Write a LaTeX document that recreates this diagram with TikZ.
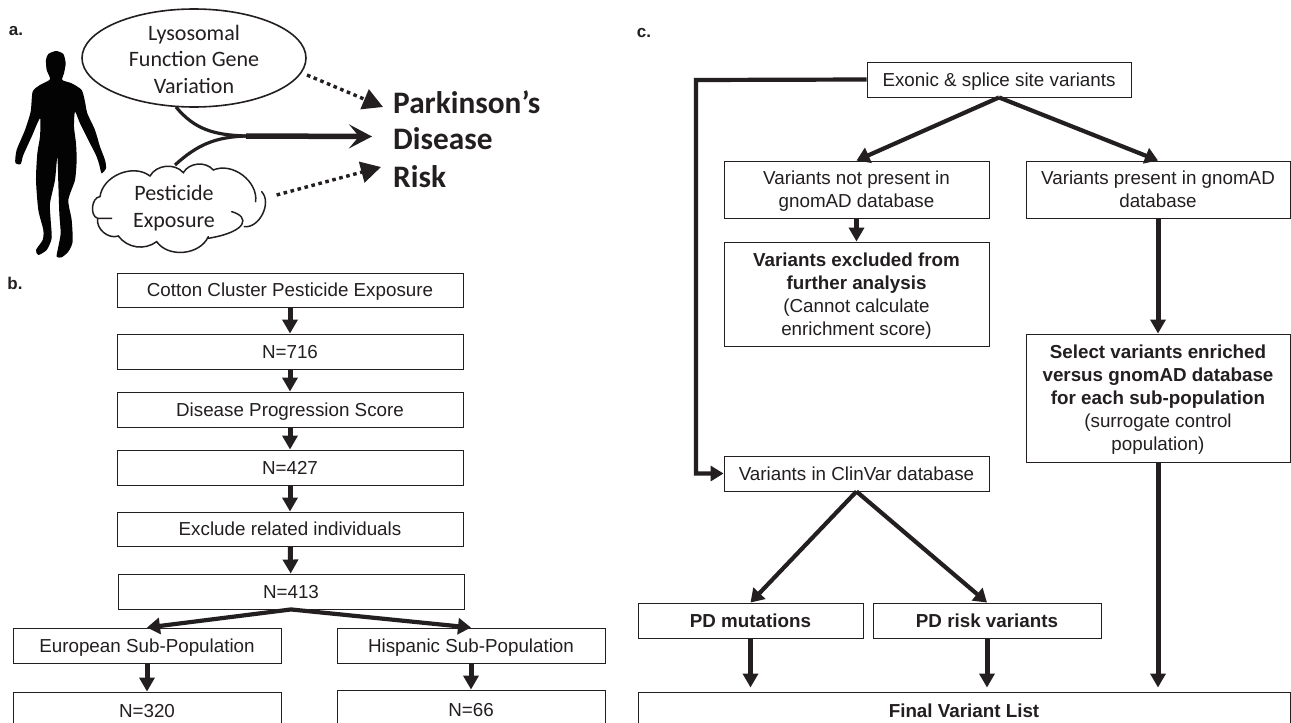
\documentclass[tikz,border=0pt]{standalone}
\usepackage{fontspec}
\setmainfont{Liberation Sans}
\newfontfamily\calib{Carlito}
\usetikzlibrary{arrows.meta,positioning,shapes.geometric}
\definecolor{ink}{HTML}{231F20}
\tikzset{
 x=1pt,y=-1pt,
 bx/.style={draw=ink,line width=0.9pt,fill=white,inner sep=0pt,align=center,text depth=0pt,font=\fontsize{18.8}{23}\selectfont,text=ink},
 thick arrow/.style={draw=ink,line width=5pt,-{Triangle[length=14pt,width=15pt]}},
 diag arrow/.style={draw=ink,line width=4.2pt,-{Triangle[length=13pt,width=16pt]}},
 dot arrow/.style={draw=ink,line width=3.4pt,dash pattern=on 3.6pt off 3.6pt,-{Triangle[length=20pt,width=21pt]}},
 lab/.style={font=\bfseries\fontsize{17}{19}\selectfont,text=ink,inner sep=0pt},
 pd/.style={font=\calib\bfseries\fontsize{31.3}{36}\selectfont,text=ink,inner sep=0pt,anchor=west},
 cal/.style={font=\calib\fontsize{22}{26.5}\selectfont,text=ink,align=center,inner sep=0pt},
}
\newcommand{\boxat}[7][]{\node[bx,minimum width=#4pt-#2pt,minimum height=#5pt-#3pt,#1] (#6) at ({(#2+#4)/2},{(#3+#5)/2}) {#7};}
\begin{document}
\begin{tikzpicture}
\useasboundingbox (0,0) rectangle (1291,723);
\fill[white] (0,0) rectangle (1291,723);
\node[lab] (la) at (16,31) {a.};
\node[lab] (lb) at (15,283) {b.};
\node[lab] (lc) at (644,33) {c.};
% person
\begin{scope}[shift={(0,40)},x=0.3333pt,y=-0.3333pt]
\fill[black!92!ink] plot[smooth cycle,tension=0.4] coordinates {
(168,33)(190,42)(197,70)(192,100)(187,120)(215,130)(245,150)(255,185)(262,220)(285,270)(300,320)(315,360)(318,385)(305,400)(298,375)(290,350)(265,300)(240,250)(225,215)(222,260)(228,310)(230,360)(225,420)(205,480)(215,540)(218,605)(205,635)(185,652)(170,650)(175,620)(182,580)(178,520)(175,430)(172,350)(165,420)(150,490)(152,540)(155,595)(140,630)(115,645)(108,630)(128,600)(130,570)(115,510)(108,420)(112,340)(120,290)(120,235)(95,290)(70,345)(62,372)(46,368)(50,330)(75,270)(92,215)(98,155)(120,135)(150,118)(140,90)(138,60)(145,42)};
\end{scope}
\node[ellipse,draw=ink,line width=1.6pt,minimum width=224pt,minimum height=98pt,inner sep=0pt] (lyso) at (194,58) {};
\node[cal] (lysot) at (194,59) {Lysosomal\\Function Gene\\Variation};
% cloud
\begin{scope}[shift={(85,160)},x=0.3333pt,y=-0.3333pt]
\draw[ink,line width=1.5pt,line cap=round]
(45,110) to[bend left=60] (195,48) to[bend left=55] (295,38) to[bend left=55] (385,30) to[bend left=60] (512,125)
(530,95) to[bend left=70] (478,200)
(440,155) .. controls (495,170) and (490,215) .. (370,235)
(370,230) to[bend left=60] (215,245) to[bend left=45] (100,228) to[bend left=60] (38,175) -- (80,175)
(38,175) to[bend left=80] (45,110);
\coordinate (cloudtop) at (270,15);
\coordinate (cloudright) at (575,105);
\end{scope}
\node[cal,font=\calib\fontsize{22}{27}\selectfont] (pest) at (174,208) {Pesticide\\Exposure};
\node[pd] (p1) at (393,102) {Parkinson’s};
\node[pd] (p2) at (393,139) {Disease};
\node[pd] (p3) at (393,177) {Risk};
\coordinate (merge) at (246,136);
\coordinate (tipm) at (372,136.5);
\coordinate (tip1) at (383,107);
\coordinate (tip3) at (381,167);
\coordinate (s1) at (176,107);
\coordinate (d1) at (307,75);
\draw[ink,line width=3.2pt] (s1) .. controls (195,130) and (215,135) .. (merge);
\draw[ink,line width=3.2pt] (cloudtop) .. controls (197,145) and (215,137) .. (merge);
\draw[ink,line width=5.5pt,-{Stealth[length=23pt,width=24pt,inset=10pt]}] (merge) -- (tipm);
\draw[dot arrow] (d1) -- (tip1);
\draw[dot arrow] (cloudright) -- (tip3);
% panel b
\boxat{117}{273}{463}{307}{b1}{Cotton Cluster Pesticide Exposure}
\boxat{117}{334}{463}{369}{b2}{N=716}
\boxat{117}{392}{463}{427}{b3}{Disease Progression Score}
\boxat{117}{450}{463}{485}{b4}{N=427}
\boxat{117}{512}{463}{546}{b5}{Exclude related individuals}
\boxat{118}{574}{464}{609}{b6}{N=413}
\boxat{13}{628}{281}{663}{b7}{European Sub-Population}
\boxat{337}{628}{605}{663}{b8}{Hispanic Sub-Population}
\boxat{13}{692}{281}{730}{b9}{N=320}
\boxat{337}{690}{605}{730}{b10}{N=66}
\foreach \a/\b in {b1/b2,b2/b3,b3/b4,b4/b5,b5/b6,b7/b9,b8/b10}{\draw[thick arrow] (\a) -- (\b);}
\draw[diag arrow] (b6.south) -- (b7.north);
\draw[diag arrow] (b6.south) -- (b8.north);
% panel c
\boxat{867}{62}{1131}{97}{ex}{Exonic \& splice site variants}
\boxat{724}{161}{989}{218}{np}{Variants not present in\\gnomAD database}
\boxat{1026}{161}{1290}{218}{pr}{Variants present in gnomAD\\database}
\boxat{724}{242}{989}{346}{exc}{\textbf{Variants excluded from}\\\textbf{further analysis}\\(Cannot calculate\\enrichment score)}
\boxat{1026}{334}{1290}{462}{sel}{\textbf{Select variants enriched}\\\textbf{versus gnomAD database}\\\textbf{for each sub-population}\\(surrogate control\\population)}
\boxat{724}{456}{989}{491}{clin}{Variants in ClinVar database}
\boxat{638}{603}{863}{638}{mut}{\textbf{PD mutations}}
\boxat{873}{603}{1101}{638}{risk}{\textbf{PD risk variants}}
\boxat{638}{692}{1290}{730}{fin}{\textbf{Final Variant List}}
\coordinate (corner) at (696,80);
\draw[draw=ink,line width=4.2pt,miter limit=10,-{Triangle[length=13pt,width=15pt]}] (ex.west) -- (corner) |- (clin.west);
\draw[diag arrow] (ex.south) -- (np.north);
\draw[diag arrow] (ex.south) -- (pr.north);
\draw[thick arrow] (np) -- (exc);
\draw[thick arrow] (pr) -- (sel);
\draw[diag arrow] (clin.south) -- (mut.north);
\draw[diag arrow] (clin.south) -- (risk.north);
\draw[thick arrow,shorten >=4pt] (mut.south) -- (mut.south |- fin.north);
\draw[thick arrow,shorten >=4pt] (risk.south) -- (risk.south |- fin.north);
\draw[thick arrow,shorten >=4pt] (sel.south) -- (sel.south |- fin.north);
\end{tikzpicture}
\end{document}
